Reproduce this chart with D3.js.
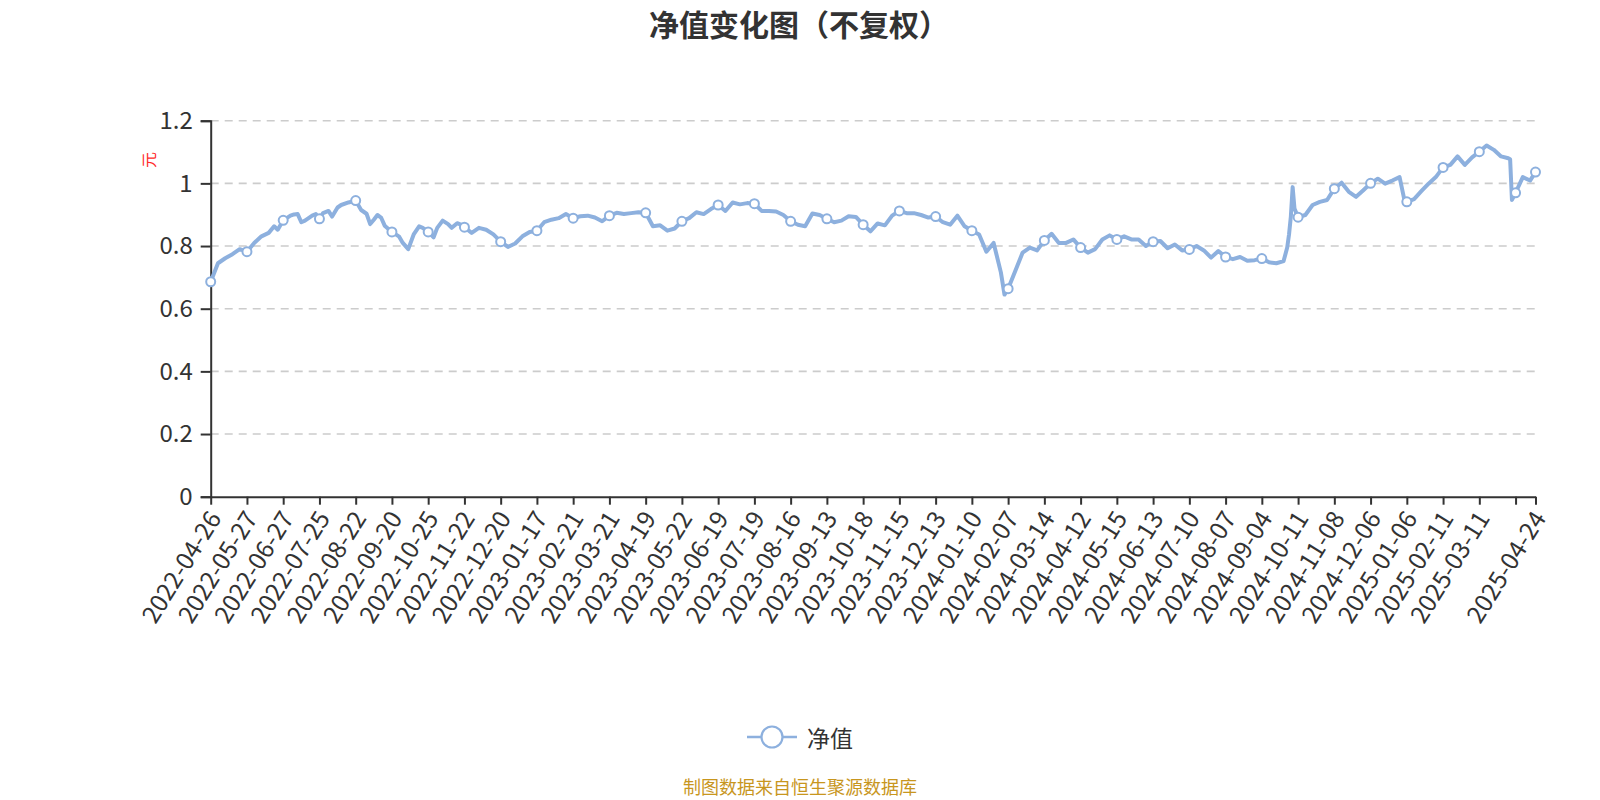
<!DOCTYPE html>
<html>
<head>
<meta charset="utf-8">
<script src="https://cdn.jsdelivr.net/npm/d3@7"></script>
<style>
  html, body { margin: 0; padding: 0; background: #fff; }
  svg { display: block; font-family: "Noto Sans CJK SC", "Noto Sans", sans-serif; }
</style>
</head>
<body>
<svg id="chart" width="1600" height="800"></svg>
<script>
// ---- data ----
const titleText = "净值变化图（不复权）";
const yAxisName = "元";
const seriesName = "净值";
const sourceText = "制图数据来自恒生聚源数据库";

// y-axis tick values
const yTicks = [0, 0.2, 0.4, 0.6, 0.8, 1.0, 1.2];

// x-axis ticks: [trading-day index, label]
const xTicks = [
  [0, "2022-04-26"], [20, "2022-05-27"], [40, "2022-06-27"], [60, "2022-07-25"],
  [80, "2022-08-22"], [100, "2022-09-20"], [120, "2022-10-25"], [140, "2022-11-22"],
  [160, "2022-12-20"], [180, "2023-01-17"], [200, "2023-02-21"], [220, "2023-03-21"],
  [240, "2023-04-19"], [260, "2023-05-22"], [280, "2023-06-19"], [300, "2023-07-19"],
  [320, "2023-08-16"], [340, "2023-09-13"], [360, "2023-10-18"], [380, "2023-11-15"],
  [400, "2023-12-13"], [420, "2024-01-10"], [440, "2024-02-07"], [460, "2024-03-14"],
  [480, "2024-04-12"], [500, "2024-05-15"], [520, "2024-06-13"], [540, "2024-07-10"],
  [560, "2024-08-07"], [580, "2024-09-04"], [600, "2024-10-11"], [620, "2024-11-08"],
  [640, "2024-12-06"], [660, "2025-01-06"], [680, "2025-02-11"], [700, "2025-03-11"],
  [720, ""], [731, "2025-04-24"]
];

// net value series: [trading-day index, NAV]
const nav = [
  [0,0.686],[4,0.745],[8,0.761],[12,0.774],[16,0.790],[20,0.782],[24,0.810],[28,0.831],
  [32,0.842],[35,0.863],[37,0.852],[40,0.882],[44,0.897],[46,0.901],[48,0.902],[50,0.876],[52,0.881],[56,0.897],[58,0.902],[60,0.887],
  [62,0.905],[65,0.912],[67,0.894],[70,0.923],[72,0.931],[76,0.939],[80,0.945],[83,0.915],[86,0.903],[88,0.870],[90,0.884],[92,0.899],
  [94,0.891],[96,0.865],[100,0.845],[104,0.830],[106,0.810],[109,0.790],[112,0.837],[115,0.863],[117,0.858],[120,0.845],[123,0.828],[125,0.858],
  [128,0.881],[131,0.870],[133,0.858],[136,0.873],[139,0.866],[140,0.860],[144,0.842],[148,0.858],[152,0.852],[156,0.837],
  [160,0.814],[164,0.797],[168,0.808],[172,0.831],[176,0.845],[180,0.849],
  [184,0.876],[188,0.884],[192,0.889],[196,0.902],[200,0.889],[204,0.895],[208,0.897],[212,0.891],
  [216,0.879],[220,0.897],[224,0.906],[228,0.902],[232,0.905],[236,0.908],[240,0.906],[244,0.863],
  [248,0.866],[252,0.849],[256,0.856],[260,0.879],[264,0.889],[268,0.908],[272,0.902],[276,0.918],
  [280,0.931],[284,0.912],[288,0.939],[292,0.933],[296,0.937],[300,0.935],[304,0.912],[308,0.912],
  [312,0.910],[316,0.899],[320,0.879],[324,0.868],[328,0.863],[332,0.904],[336,0.899],[340,0.887],
  [344,0.876],[348,0.881],[352,0.895],[356,0.893],[360,0.868],
  [364,0.847],[368,0.872],[372,0.866],[376,0.897],[380,0.912],[384,0.905],[388,0.905],[392,0.899],
  [396,0.891],[400,0.894],[404,0.876],[408,0.868],[412,0.897],[416,0.863],[420,0.849],[424,0.837],
  [428,0.782],[432,0.810],[436,0.716],[438,0.645],[440,0.664],[444,0.721],[448,0.779],[452,0.795],
  [456,0.786],[460,0.818],[464,0.839],[468,0.810],[472,0.810],[476,0.821],[480,0.795],[484,0.779],
  [488,0.790],[492,0.821],[496,0.834],[500,0.821],[504,0.831],[508,0.821],[512,0.821],[516,0.800],
  [520,0.814],[524,0.816],[528,0.793],[532,0.805],[536,0.786],[540,0.789],
  [544,0.800],[548,0.786],[552,0.763],[556,0.784],[560,0.765],[564,0.758],[568,0.765],[572,0.753],
  [576,0.755],[580,0.760],[584,0.748],[588,0.745],[592,0.752],[594,0.795],[595,0.837],[596,0.894],
  [597,0.988],[598,0.920],[600,0.892],[604,0.899],[608,0.931],[612,0.941],[616,0.947],[620,0.983],
  [624,1.002],[628,0.973],[632,0.957],[636,0.978],[640,1.000],[644,1.015],[648,0.999],[652,1.009],
  [656,1.020],[659,0.938],[660,0.941],[664,0.950],[668,0.975],[672,0.999],[676,1.020],[680,1.051],
  [684,1.059],[688,1.086],[692,1.059],[696,1.083],[700,1.101],[704,1.121],[708,1.107],[712,1.086],
  [716,1.080],[717,1.077],[718,0.947],[720,0.970],[724,1.020],[728,1.009],[731,1.036]
];
const lastIndex = 731;

// ---- drawing ----
const svg = d3.select("#chart");
const lineColor = "#8db0de";
const axisColor = "#333";
const fontStack = "\"Noto Sans CJK SC\", \"Noto Sans\", sans-serif";

const x = d3.scaleLinear().domain([0, lastIndex]).range([210.7, 1535.5]);
const y = d3.scaleLinear().domain([0, 1.2]).range([496.7, 120.7]);

// title
svg.append("text")
  .attr("x", 799).attr("y", 23)
  .attr("text-anchor", "middle").attr("dominant-baseline", "central")
  .attr("font-size", 30).attr("font-weight", "bold").attr("fill", "#333")
  .text(titleText);

// grid lines
svg.append("g").selectAll("line")
  .data(yTicks.filter(d => d > 0))
  .join("line")
  .attr("x1", x(0)).attr("x2", x(lastIndex))
  .attr("y1", d => y(d)).attr("y2", d => y(d))
  .attr("stroke", "#ccc").attr("stroke-width", 1.6)
  .attr("stroke-dasharray", "8,6");

// y axis
const yAxis = svg.append("g")
  .attr("transform", `translate(${x(0)},0)`)
  .call(d3.axisLeft(y).tickValues(yTicks).tickSize(10).tickPadding(8)
    .tickFormat(d => d3.format("~g")(+d.toFixed(1))));
yAxis.select(".domain").attr("stroke", axisColor).attr("stroke-width", 2);
yAxis.selectAll(".tick line").attr("stroke", axisColor).attr("stroke-width", 2);
yAxis.selectAll(".tick text").attr("fill", "#333").attr("font-size", 24)
  .attr("font-family", fontStack);

// y axis name
svg.append("text")
  .attr("transform", `translate(148,160) rotate(-90)`)
  .attr("text-anchor", "middle").attr("dominant-baseline", "central")
  .attr("font-size", 16).attr("fill", "#ff2a2a")
  .text(yAxisName);

// x axis
const labelMap = new Map(xTicks);
const xAxis = svg.append("g")
  .attr("transform", `translate(0,${y(0)})`)
  .call(d3.axisBottom(x).tickValues(xTicks.map(d => d[0])).tickSize(8).tickSizeOuter(0)
    .tickFormat(d => labelMap.get(d)));
xAxis.select(".domain").attr("stroke", axisColor).attr("stroke-width", 2);
xAxis.selectAll(".tick line").attr("stroke", axisColor).attr("stroke-width", 2);
xAxis.selectAll(".tick text")
  .attr("fill", "#333").attr("font-size", 24.5)
  .attr("font-family", fontStack)
  .attr("text-anchor", "end")
  .attr("dy", null)
  .attr("y", 0)
  .attr("dominant-baseline", "central")
  .attr("transform", "translate(2,16) rotate(-58)");

// line
const line = d3.line().x(d => x(d[0])).y(d => y(d[1])).curve(d3.curveLinear);
svg.append("path")
  .datum(nav)
  .attr("d", line)
  .attr("fill", "none")
  .attr("stroke", lineColor)
  .attr("stroke-width", 4)
  .attr("stroke-linejoin", "round")
  .attr("stroke-linecap", "round");

// markers (every 20th trading day and last)
svg.append("g").selectAll("circle")
  .data(nav.filter(d => d[0] % 20 === 0 || d[0] === lastIndex))
  .join("circle")
  .attr("cx", d => x(d[0])).attr("cy", d => y(d[1]))
  .attr("r", 4.5)
  .attr("fill", "#fff").attr("stroke", lineColor).attr("stroke-width", 2);

// legend
const lg = svg.append("g");
lg.append("line").attr("x1", 747).attr("x2", 797).attr("y1", 737).attr("y2", 737)
  .attr("stroke", lineColor).attr("stroke-width", 2.5);
lg.append("circle").attr("cx", 772).attr("cy", 737).attr("r", 10.5)
  .attr("fill", "#fff").attr("stroke", lineColor).attr("stroke-width", 2.2);
lg.append("text").attr("x", 807).attr("y", 737)
  .attr("dominant-baseline", "central").attr("font-size", 23).attr("fill", "#333")
  .text(seriesName);

// source note
svg.append("text")
  .attr("x", 800).attr("y", 786)
  .attr("text-anchor", "middle").attr("dominant-baseline", "central")
  .attr("font-size", 18).attr("fill", "#c8961e")
  .text(sourceText);
</script>
</body>
</html>
